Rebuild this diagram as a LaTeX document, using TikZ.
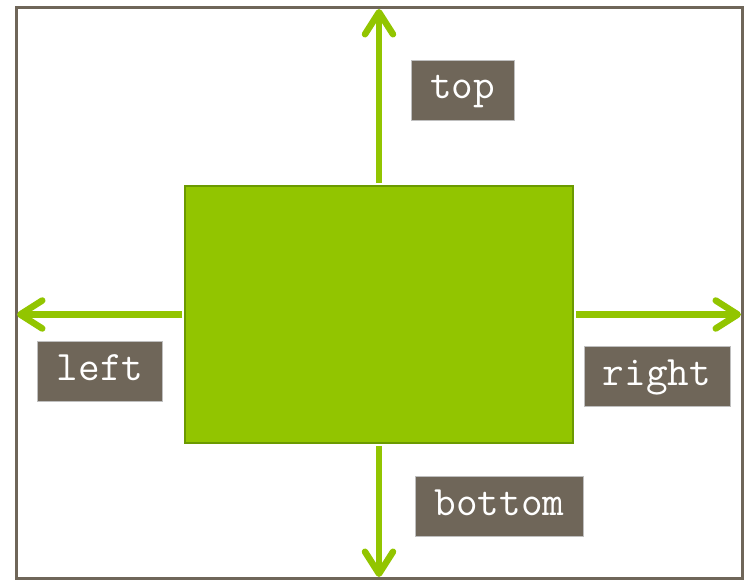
\documentclass[tikz,border=0pt]{standalone}
\usetikzlibrary{arrows.meta}
\definecolor{leaf}{HTML}{92C500}
\definecolor{leafdark}{HTML}{6B9A00}
\definecolor{taupe}{HTML}{6F6659}

\begin{document}
\begin{tikzpicture}[x=1pt, y=-1pt,
    >={Straight Barb[length=22pt, width=28pt, line cap=round, line join=round]},
    every node/.style={inner sep=0pt},
    tag/.style={fill=taupe, draw=black!25, line width=0.8pt, text=white,
      font=\ttfamily\fontsize{42}{42}\selectfont,
      text height=32pt, text depth=14pt, inner ysep=7pt, inner xsep=19pt},
    pointer/.style={->, leaf, line width=6.5pt, shorten <=1.5pt}]
      % canvas in pixels, origin at upper left corner
      \useasboundingbox (0, 0) rectangle (748, 580);
      \def\midx{379}
      \def\midy{314.5}
      \draw [taupe, line width=3pt] (16, 8) rectangle (742, 578);
      \coordinate (ftop) at (\midx, 9);
      \coordinate (fbottom) at (\midx, 577);
      \coordinate (fleft) at (17, \midy);
      \coordinate (fright) at (741, \midy);

      \node [fill=leaf, draw=leafdark, line width=2.5pt, minimum width=388pt, minimum height=257pt] (box) at (\midx, \midy) {};

      \draw [pointer] (box.north) -- (ftop);
      \draw [pointer] (box.south) -- (fbottom);
      \draw [pointer] (box.west) -- (fleft);
      \draw [pointer] (box.east) -- (fright);

      \node [tag] (top) at (462.5, 90) {top};
      \node [tag] (left) at (100, 371.5) {left};
      \node [tag] (right) at (657, 376.5) {right};
      \node [tag] (bottom) at (499.5, 506) {bottom};
\end{tikzpicture}
\end{document}
